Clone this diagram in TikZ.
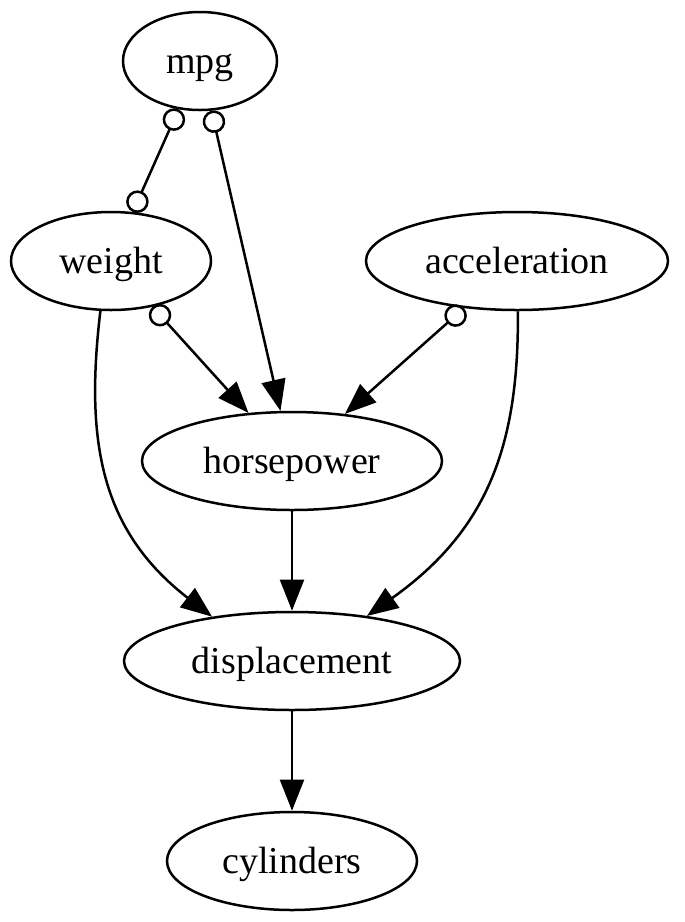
\documentclass[tikz,border=0pt]{standalone}
\usepackage{fontspec}
\setmainfont{Liberation Serif}
\usetikzlibrary{shapes.geometric,arrows.meta}
\tikzset{
  nd/.style={draw, ellipse, line width=1pt, inner sep=0pt, minimum height=39.2pt, text height=12.4pt, text depth=2.2pt, font=\fontsize{15.2}{18}\selectfont},
  arr/.style={line width=1pt, -{Triangle[length=12.5pt,width=9.6pt]}},
  oarr/.style={line width=1pt, {Circle[open,length=9pt]}-{Triangle[length=12.5pt,width=9.6pt]}},
  oo/.style={line width=1pt, {Circle[open,length=9pt]}-{Circle[open,length=9pt]}}
}
\begin{document}
\begin{tikzpicture}[x=0.4pt,y=-0.4pt]
\useasboundingbox (0,0) rectangle (685,922);
\node[nd, minimum width=61.6pt] (mpg) at (200,61) {mpg};
\node[nd, minimum width=80pt] (weight) at (111,261) {weight};
\node[nd, minimum width=120.8pt] (acceleration) at (517,261) {acceleration};
\node[nd, minimum width=120pt] (horsepower) at (292,461) {horsepower};
\node[nd, minimum width=134.4pt] (displacement) at (292,661) {displacement};
\node[nd, minimum width=100pt] (cylinders) at (292,861) {cylinders};
\draw[oo] (mpg) -- (weight);
\draw[oarr] (mpg) -- (horsepower);
\draw[oarr] (weight) -- (horsepower);
\draw[oarr] (acceleration) -- (horsepower);
\draw[arr] (weight.258) .. controls (85,440) and (100,530) .. (displacement.151);
\draw[arr] (acceleration.271) .. controls (519,445) and (488,530) .. (displacement.31);
\draw[arr] (horsepower) -- (displacement);
\draw[arr] (displacement) -- (cylinders);
\end{tikzpicture}
\end{document}
